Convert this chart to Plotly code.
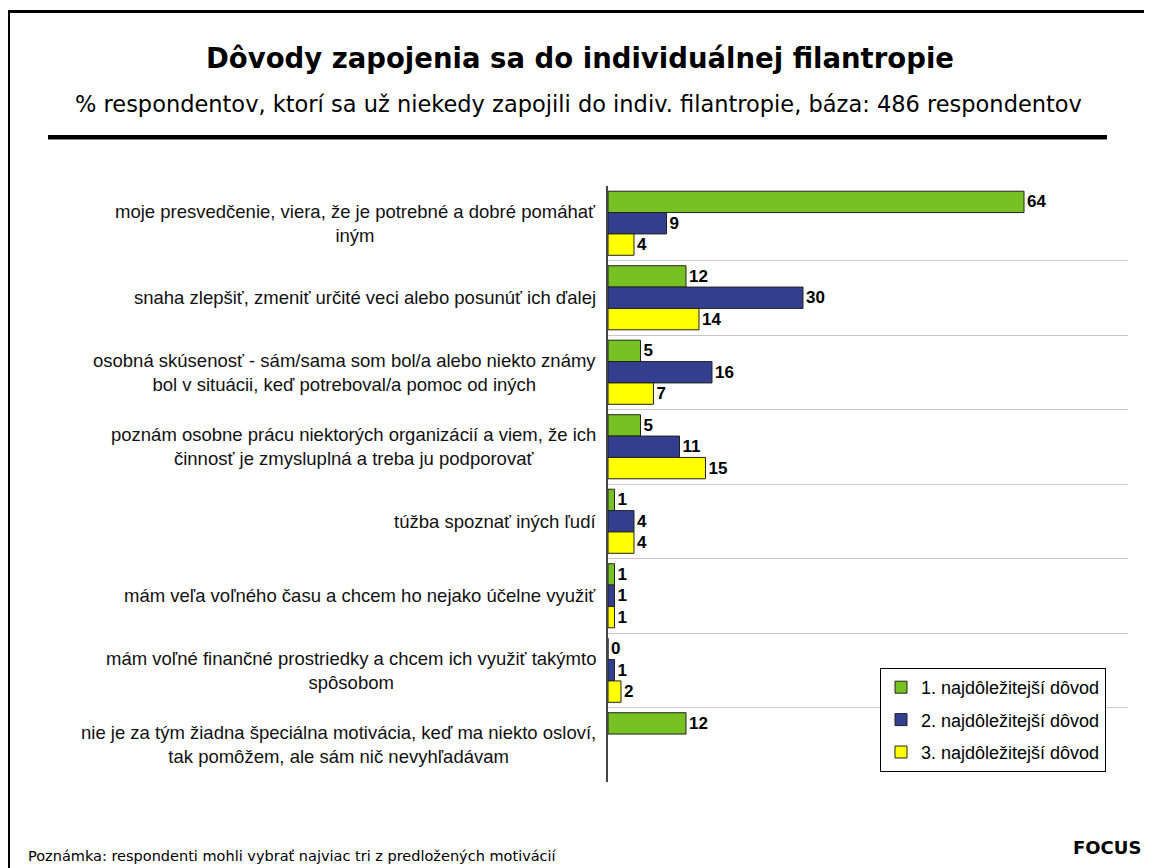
import plotly.graph_objects as go

# data (% of respondents)
categories = [
    "moje presvedčenie, viera, že je potrebné a dobré pomáhať<br>iným",
    "snaha zlepšiť, zmeniť určité veci alebo posunúť ich ďalej",
    "osobná skúsenosť - sám/sama som bol/a alebo niekto známy<br>bol v situácii, keď potreboval/a pomoc od iných",
    "poznám osobne prácu niektorých organizácií a viem, že ich<br>činnosť je zmysluplná a treba ju podporovať",
    "túžba spoznať iných ľudí",
    "mám veľa voľného času a chcem ho nejako účelne využiť",
    "mám voľné finančné prostriedky a chcem ich využiť takýmto<br>spôsobom",
    "nie je za tým žiadna špeciálna motivácia, keď ma niekto osloví,<br>tak pomôžem, ale sám nič nevyhľadávam",
]
first_reason = [64, 12, 5, 5, 1, 1, 0, 12]
second_reason = [9, 30, 16, 11, 4, 1, 1, None]
third_reason = [4, 14, 7, 15, 4, 1, 2, None]

series_names = [
    "1. najdôležitejší dôvod",
    "2. najdôležitejší dôvod",
    "3. najdôležitejší dôvod",
]
series_values = [first_reason, second_reason, third_reason]
colors = ["#77C123", "#343E8E", "#FFFF00"]

title = "Dôvody zapojenia sa do individuálnej filantropie"
subtitle = "% respondentov, ktorí sa už niekedy zapojili do indiv. filantropie, báza: 486 respondentov"
note = "Poznámka: respondenti mohli vybrať najviac tri z predložených motivácií"

W, H = 1152, 868
OFF = 8  # page body margin shifts the figure by 8px
# target plot area in page pixels: x 608..1128, y 186..782
L, T = 608 - OFF, 186 - OFF
R, B = W - (1128 - OFF), H - (782 - OFF)
PW, PH = W - L - R, H - T - B


def px(x):
    return (x - OFF - L) / PW


def py(y):
    return (H - B - (y - OFF)) / PH


fig = go.Figure()
for i, (name, vals, col) in enumerate(zip(series_names, series_values, colors)):
    fig.add_trace(go.Bar(
        y=categories, x=vals, name=name, orientation="h",
        marker=dict(color=col, line=dict(color="#222222", width=1)),
        text=vals, texttemplate="%{x}", textposition="outside",
        textfont=dict(family="Liberation Sans", size=17, color="black", weight="bold"),
        cliponaxis=False, legendgroup=f"g{i}", hoverinfo="x+name",
    ))

fig.update_layout(
    width=W, height=H,
    margin=dict(l=L, r=R, t=T, b=B),
    paper_bgcolor="white", plot_bgcolor="white",
    barmode="group", bargap=0.14, bargroupgap=0,
    font=dict(family="Liberation Sans", color="black"),
    showlegend=True,
    legend=dict(
        x=px(880), y=py(668), xanchor="left", yanchor="top",
        bordercolor="black", borderwidth=1, bgcolor="white",
        font=dict(family="Liberation Sans", size=18, color="black"),
        tracegroupgap=6, itemwidth=30,
    ),
    xaxis=dict(range=[0, 80], showgrid=False, showticklabels=False,
               zeroline=False, ticks="", showline=False),
    yaxis=dict(autorange="reversed", tickson="boundaries", showgrid=True,
               gridcolor="#C8C8C8", gridwidth=1, showticklabels=False,
               ticks="", showline=True, linecolor="#444444", linewidth=2),
)

# category labels, centred lines, right-aligned block
for cat in categories:
    fig.add_annotation(
        x=px(598), xref="paper", y=cat, yref="y", text=cat,
        xanchor="right", yanchor="middle", align="center", showarrow=False,
        font=dict(family="Liberation Sans", size=18.5, color="#111111"),
    )

fig.add_annotation(x=px(580), y=py(58), xref="paper", yref="paper", text=f"<b>{title}</b>",
                   showarrow=False, xanchor="center", yanchor="middle",
                   font=dict(family="DejaVu Sans", size=27.5, color="black"))
fig.add_annotation(x=px(578), y=py(104), xref="paper", yref="paper", text=subtitle,
                   showarrow=False, xanchor="center", yanchor="middle",
                   font=dict(family="DejaVu Sans", size=22.5, color="black"))
fig.add_annotation(x=px(26), y=py(856), xref="paper", yref="paper", text=note,
                   showarrow=False, xanchor="left", yanchor="middle",
                   font=dict(family="DejaVu Sans", size=14.5, color="black"))
fig.add_annotation(x=px(1143), y=py(847), xref="paper", yref="paper", text="<b>FOCUS</b>",
                   showarrow=False, xanchor="right", yanchor="middle",
                   font=dict(family="DejaVu Sans", size=18, color="black"))

# rule under the subtitle and the outer frame
fig.add_shape(type="line", xref="paper", yref="paper",
              x0=px(48), x1=px(1107), y0=py(139.5), y1=py(139.5),
              line=dict(color="#888888", width=1))
fig.add_shape(type="line", xref="paper", yref="paper",
              x0=px(48), x1=px(1107), y0=py(137), y1=py(137),
              line=dict(color="black", width=4))
fig.add_shape(type="rect", xref="paper", yref="paper",
              x0=px(8.5), x1=px(1175), y0=py(890), y1=py(11.5),
              line=dict(color="black", width=3), fillcolor="rgba(0,0,0,0)")

fig.write_html("out.html")
